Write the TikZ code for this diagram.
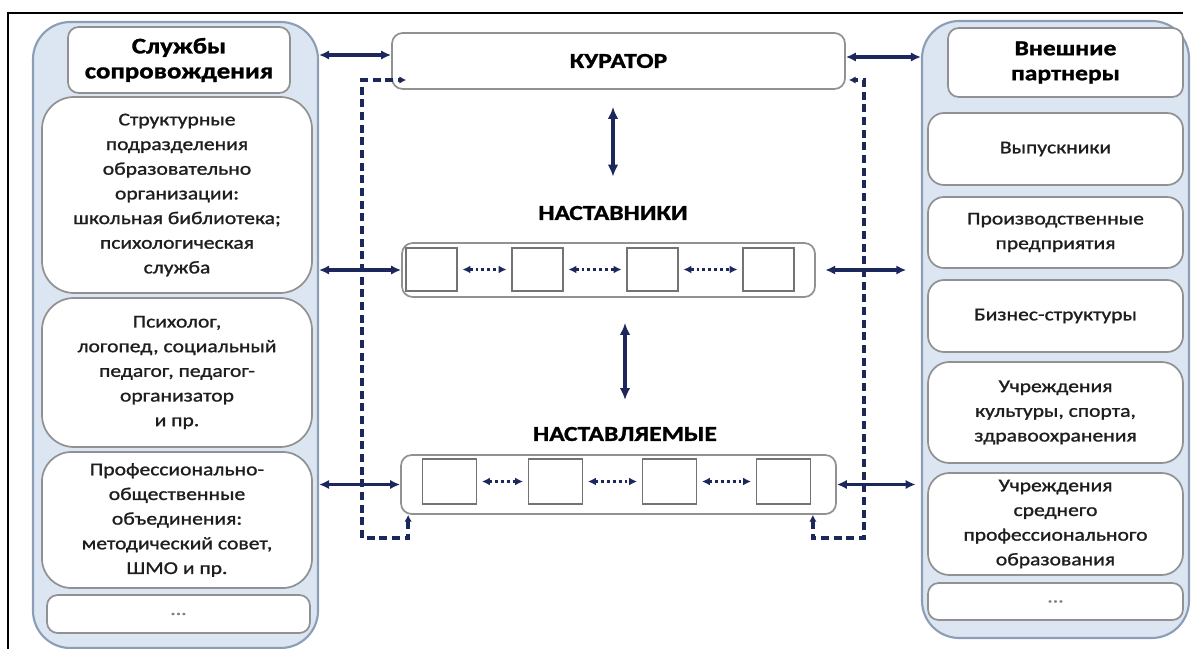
\documentclass[tikz,border=0pt]{standalone}
\usepackage{fontspec}
\setmainfont{Carlito}[FakeStretch=1.2,FakeBold=1.2]
\usetikzlibrary{arrows.meta,calc}

\definecolor{navy}{RGB}{28,40,92}
\definecolor{panel}{RGB}{220,230,243}
\definecolor{panelline}{RGB}{140,158,182}
\definecolor{boxline}{RGB}{145,145,145}
\definecolor{sqline}{RGB}{115,115,115}
\definecolor{txt}{RGB}{30,30,30}

\tikzset{
  headfont/.style={font=\bfseries\fontsize{16}{18.75}\selectfont,text=black},
}

\begin{document}
\begin{tikzpicture}[x=0.75pt,y=-0.75pt,>={Latex[length=7.5pt,width=7pt]}]
      \useasboundingbox (0,0) rectangle (1192,649);
      \draw[line width=1.5pt] (8,649) |- (1183,13);

      \begin{scope}[every node/.style={draw=panelline,fill=panel,line width=1.6pt,rounded corners=28pt,inner sep=0pt}]
        \node[minimum width=213.75pt,minimum height=469.5pt] (L) at (175.5,335) {};
        \node[minimum width=200.25pt,minimum height=462.75pt] (R) at (1055.5,329.5) {};
      \end{scope}

      \begin{scope}[every node/.style={draw=boxline,fill=white,line width=1.3pt,rounded corners=8pt,inner sep=0pt,align=center,text=txt,font=\fontsize{13.5}{18.5}\selectfont}]
        % left column
        \node[minimum width=166.5pt,minimum height=49.5pt,headfont,font=\bfseries\fontsize{16.8}{18.75}\selectfont] (l0) at (179,60) {Службы\\сопровождения};
        \node[minimum width=202.5pt,minimum height=147pt,rounded corners=24pt] (l1) at (177,195) {Структурные\\подразделения\\образовательно\\организации:\\школьная библиотека;\\психологическая\\служба};
        \node[minimum width=202.5pt,minimum height=111.75pt,rounded corners=24pt] (l2) at (177,372.5) {Психолог,\\логопед, социальный\\педагог, педагог-\\организатор\\и пр.};
        \node[minimum width=202.5pt,minimum height=102pt,rounded corners=22pt] (l3) at (177,520) {Профессионально-\\общественные\\объединения:\\методический совет,\\ШМО и пр.};
        \node[minimum width=197.25pt,minimum height=28.5pt,text=gray] (l4) at (178.5,614) {...};
        % right column
        \node[minimum width=176.25pt,minimum height=51.75pt,headfont] (r0) at (1065.5,62.5) {Внешние\\партнеры};
        \node[minimum width=191.25pt,minimum height=54pt,rounded corners=12pt] (r1) at (1055.5,149) {Выпускники};
        \node[minimum width=191.25pt,minimum height=53.25pt,rounded corners=12pt] (r2) at (1055.5,232.5) {Производственные\\предприятия};
        \node[minimum width=191.25pt,minimum height=54pt,rounded corners=12pt] (r3) at (1055.5,316) {Бизнес-структуры};
        \node[minimum width=191.25pt,minimum height=75.75pt,rounded corners=16pt] (r4) at (1055.5,412.5) {Учреждения\\культуры, спорта,\\здравоохранения};
        \node[minimum width=191.25pt,minimum height=76.5pt,rounded corners=16pt] (r5) at (1055.5,524) {Учреждения\\среднего\\профессионального\\образования};
        \node[minimum width=191.25pt,minimum height=27.75pt,text=gray] (r6) at (1055.5,601.5) {...};
        % centre
        \node[minimum width=339.75pt,minimum height=42pt,headfont] (k) at (618.5,61) {КУРАТОР};
        \node[minimum width=309.75pt,minimum height=40.5pt] (m) at (608.5,270) {};
        \node[minimum width=326.25pt,minimum height=44.25pt] (s) at (618.5,484.5) {};
      \end{scope}

      \begin{scope}[every node/.style={draw=sqline,fill=white,line width=1.2pt,inner sep=0pt}]
        \node[minimum width=38.25pt,minimum height=32.25pt] (m1) at (431.5,269.5) {};
        \node[minimum width=38.25pt,minimum height=32.25pt] (m2) at (537.5,269.5) {};
        \node[minimum width=38.25pt,minimum height=32.25pt] (m3) at (652.5,269.5) {};
        \node[minimum width=38.25pt,minimum height=32.25pt] (m4) at (768.5,269.5) {};
        \node[minimum width=40.5pt,minimum height=33.75pt] (s1) at (449.5,481.5) {};
        \node[minimum width=40.5pt,minimum height=33.75pt] (s2) at (555.5,481.5) {};
        \node[minimum width=40.5pt,minimum height=33.75pt] (s3) at (669.5,481.5) {};
        \node[minimum width=40.5pt,minimum height=33.75pt] (s4) at (783.5,481.5) {};
      \end{scope}

      \node[headfont,inner sep=0pt] (tm) at (613,213) {НАСТАВНИКИ};
      \node[headfont,inner sep=0pt] (ts) at (625,434) {НАСТАВЛЯЕМЫЕ};

      % dashed feedback lines
      \coordinate (dl) at (362,538);
      \coordinate (dr) at (864,538);
      \begin{scope}[every path/.style={draw=navy,line width=2.6pt,dash pattern=on 6pt off 3.5pt},>={Latex[length=5pt,width=5.5pt]}]
        \draw[<->] ($(s.south west)+(8,0)$) |- (dl) |- ($(k.west)+(15,19)$);
        \draw[<->] ($(s.south east)+(-24,0)$) |- (dr) |- ($(k.east)+(3,19)$);
      \end{scope}

      \begin{scope}[every edge/.style={draw=navy,line width=2.5pt,<->}]
        \path (L.east |- 0,55) edge (k.west |- 0,55);
        \path (k.east |- 0,57) edge (R.west |- 0,57);
        \path (L.east |- m.west) edge (m.west);
        \path (m.east) edge[shorten <=7pt,shorten >=11pt] (R.west |- m.east);
        \path (L.east |- s.west) edge (s.west);
        \path (s.east) edge[shorten >=4pt] (R.west |- s.east);
      \end{scope}

      \begin{scope}[every edge/.style={draw=navy,line width=3pt,<->,>={Latex[length=9pt,width=8pt]}}]
        \path (tm.north |- k.south) edge[shorten <=12.75pt,shorten >=21.75pt] (tm.north);
        \path (ts.north |- m.south) edge[shorten <=18.75pt,shorten >=20pt] (ts.north);
      \end{scope}

      \begin{scope}[every edge/.style={draw=navy,line width=2.4pt,dash pattern=on 2.2pt off 2.2pt,<->,>={Latex[length=6pt,width=6pt]},shorten <=3.5pt,shorten >=3.5pt}]
        \path (m1) edge (m2);
        \path (m2) edge (m3);
        \path (m3) edge (m4);
        \path (s1) edge (s2);
        \path (s2) edge (s3);
        \path (s3) edge (s4);
      \end{scope}

    \end{tikzpicture}
\end{document}
